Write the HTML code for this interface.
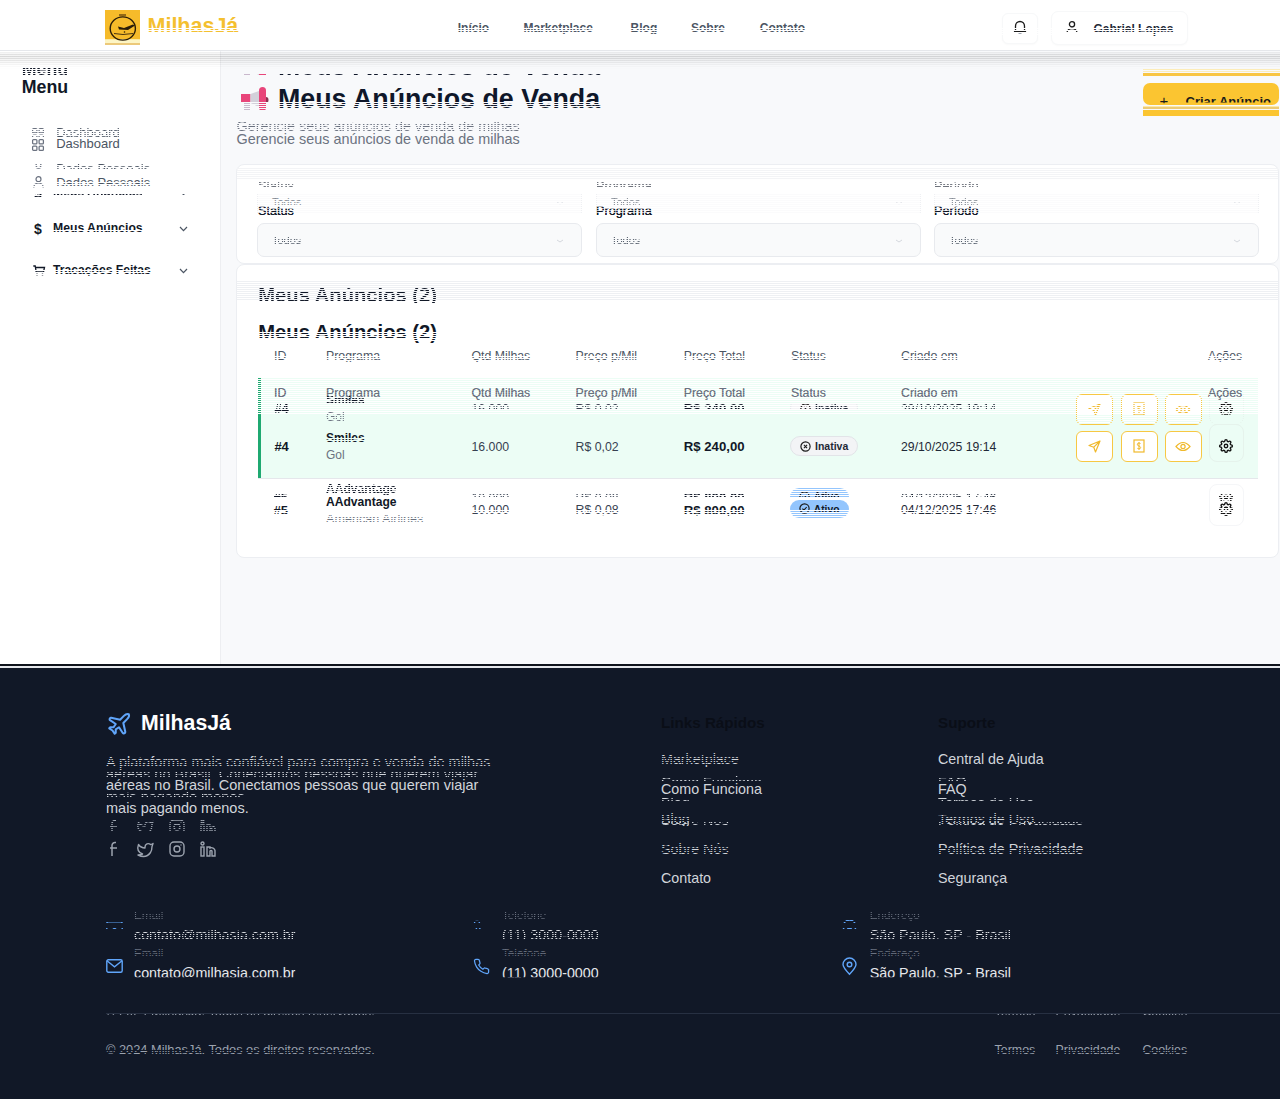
<!DOCTYPE html>
<html lang="pt-BR">
<head>
<meta charset="utf-8">
<title>MilhasJá - Meus Anúncios de Venda</title>
<style>
*{box-sizing:border-box;margin:0;padding:0}
html,body{width:1280px;height:1099px;overflow:hidden;background:#f8f9fb;font-family:"Liberation Sans",sans-serif;color:#111827}
.a{position:absolute;white-space:nowrap;line-height:1}
svg.a{overflow:visible}
.st{-webkit-mask-image:repeating-linear-gradient(to bottom,#000 0 1px,transparent 1px 2px);mask-image:repeating-linear-gradient(to bottom,#000 0 1px,transparent 1px 2px)}
.st2{-webkit-mask-image:repeating-linear-gradient(to bottom,transparent 0 1px,#000 1px 2px);mask-image:repeating-linear-gradient(to bottom,transparent 0 1px,#000 1px 2px)}
</style>
</head>
<body>
<div class="a " style="left:0px;top:0px;width:1280px;height:50px;background:#fff"></div>
<div class="a " style="left:0px;top:50px;width:1280px;height:1px;background:#e5e7eb"></div>
<div class="a " style="left:105px;top:10px;width:35px;height:29px;background:#f6bb2a"></div>
<div class="a " style="left:105px;top:39px;width:35px;height:1px;background:#fbe9a0"></div>
<div class="a " style="left:105px;top:40px;width:35px;height:3px;background:#fdf5c4"></div>
<div class="a " style="left:105px;top:43px;width:35px;height:2px;background:#ecc97a"></div>
<svg class="a" style="left:105px;top:5px;" width="35" height="40" viewBox="0 0 35 40"><ellipse cx="17.8" cy="23.5" rx="12.6" ry="11.6" fill="none" stroke="#2a1d08" stroke-width="1.4"/><path d="M14 10 h7" stroke="#6b4a10" stroke-width="1.4"/><path d="M13 21.5 L19 23 L28 19.5 L30 20.5 L23 25 L14 24.5 Z" fill="#2a1d08"/><path d="M9 28.5 Q17.5 30.5 28 28.5" fill="none" stroke="#4a3510" stroke-width="1"/><circle cx="19.5" cy="27" r=".8" fill="#2a1d08"/></svg>
<div class="a " style="left:147.50px;top:15.80px;font-size:21.5px;font-weight:bold;color:#f4c02f;">MilhasJá</div>
<div class="a " style="left:457.75px;top:22.34px;font-size:12px;font-weight:bold;color:#4b5563;">Início</div>
<div class="a " style="left:523.50px;top:22.34px;font-size:12px;font-weight:bold;color:#4b5563;">Marketplace</div>
<div class="a " style="left:630.60px;top:22.34px;font-size:12px;font-weight:bold;color:#4b5563;">Blog</div>
<div class="a " style="left:691.00px;top:22.34px;font-size:12px;font-weight:bold;color:#4b5563;">Sobre</div>
<div class="a " style="left:759.80px;top:22.34px;font-size:12px;font-weight:bold;color:#4b5563;">Contato</div>
<div class="a " style="left:1002px;top:13px;width:36px;height:31px;background:#fff;border:1px solid #f7f8f9;border-radius:6px;box-shadow:0 1px 2px rgba(0,0,0,.025)"></div>
<svg class="a" style="left:1013px;top:19px;" width="14" height="16" viewBox="0 0 14 16"><path d="M2.5 11.5 V7 A4.5 4.5 0 0 1 11.5 7 V11.5 L12.5 12.5 H1.5 Z" fill="none" stroke="#1a1a1a" stroke-width="1.3" stroke-linejoin="round"/><path d="M5.5 14.5 H8.5" stroke="#9ca3af" stroke-width="1.2"/></svg>
<div class="a " style="left:1051px;top:11px;width:137px;height:34px;background:#fff;border:1px solid #f7f8f9;border-radius:7px;box-shadow:0 1px 2px rgba(0,0,0,.025)"></div>
<svg class="a" style="left:1066px;top:20px;" width="12" height="14" viewBox="0 0 12 14"><circle cx="6" cy="4.2" r="2.6" fill="none" stroke="#1a1a1a" stroke-width="1.3"/><path d="M1 13 A5 4.5 0 0 1 11 13" fill="none" stroke="#1a1a1a" stroke-width="1.3"/></svg>
<div class="a " style="left:1093.40px;top:22.64px;font-size:12px;font-weight:bold;color:#1f2937;">Gabriel Lopes</div>
<div class="a " style="left:0px;top:51px;width:221px;height:614px;background:#fff;border-right:1px solid #edeef1"></div>
<div class="a " style="left:21.70px;top:79.13px;font-size:17.8px;font-weight:bold;color:#111827;">Menu</div>
<svg class="a" style="left:32px;top:139px;" width="12" height="12" viewBox="0 0 12 12"><g fill="none" stroke="#6b7280" stroke-width="1.25"><rect x=".6" y=".6" width="4.3" height="4.3" rx=".9"/><rect x="7.1" y=".6" width="4.3" height="4.3" rx=".9"/><rect x=".6" y="7.1" width="4.3" height="4.3" rx=".9"/><rect x="7.1" y="7.1" width="4.3" height="4.3" rx=".9"/></g></svg>
<div class="a " style="left:56.20px;top:137.40px;font-size:13px;font-weight:normal;color:#4b5563;">Dashboard</div>
<svg class="a" style="left:33px;top:176px;" width="11" height="12" viewBox="0 0 11 12"><g fill="none" stroke="#6b7280" stroke-width="1.2"><circle cx="5.5" cy="3.2" r="2.5"/><path d="M.8 11.5 A4.7 4.7 0 0 1 10.2 11.5"/></g></svg>
<div class="a " style="left:56.20px;top:175.60px;font-size:13px;font-weight:normal;color:#4b5563;">Dados Pessoais</div>
<div class="a " style="left:34.00px;top:221.65px;font-size:14px;font-weight:bold;color:#111827;">$</div>
<div class="a " style="left:53.00px;top:221.97px;font-size:12.2px;font-weight:bold;color:#111827;">Meus Anúncios</div>
<svg class="a" style="left:179px;top:226px;" width="9" height="6" viewBox="0 0 9 6"><path d="M1 1 L4.5 4.6 L8 1" fill="none" stroke="#4b5563" stroke-width="1.2"/></svg>
<svg class="a" style="left:33px;top:265px;" width="12" height="11" viewBox="0 0 12 11"><g fill="none" stroke="#111827" stroke-width="1.3"><path d="M.3 1 H2.2 L3.2 7 H10.5 L11.5 2.5 H2.6"/></g><circle cx="4" cy="9.6" r="1" fill="#111827"/><circle cx="9.5" cy="9.6" r="1" fill="#111827"/></svg>
<div class="a " style="left:53.00px;top:263.72px;font-size:12.15px;font-weight:bold;color:#111827;">Tracações Feitas</div>
<svg class="a" style="left:179px;top:268px;" width="9" height="6" viewBox="0 0 9 6"><path d="M1 1 L4.5 4.6 L8 1" fill="none" stroke="#4b5563" stroke-width="1.2"/></svg>
<div class="a " style="left:221px;top:51px;width:1059px;height:614px;background:#f8f9fb"></div>
<svg class="a" style="left:241px;top:87px;" width="27" height="25" viewBox="0 0 27 25"><rect x="0" y="7" width="9.5" height="9" fill="#e8457a"/><path d="M3 16 h6 v7 h-6 z" fill="#c9b8cc"/><path d="M9.5 7 L18 4 V20 L9.5 16 Z" fill="#d3d0da"/><rect x="18" y="0" width="7" height="24" rx="3.5" fill="#e8457a"/><path d="M25 10 a2.5 3 0 0 1 0 6" fill="#8a3050"/></svg>
<div class="a " style="left:278.00px;top:85.81px;font-size:26.8px;font-weight:bold;color:#0f172a;">Meus Anúncios de Venda</div>
<div class="a " style="left:236.60px;top:131.81px;font-size:14.4px;font-weight:normal;color:#6b7280;">Gerencie seus anúncios de venda de milhas</div>
<div class="a " style="left:1143px;top:83px;width:136px;height:22px;background:#fbc531;border-radius:7px"></div>
<div class="a " style="left:1143px;top:106px;width:136px;height:1px;background:#fde9a6"></div>
<div class="a " style="left:1143px;top:107px;width:136px;height:2px;background:#ecca74"></div>
<div class="a " style="left:1143px;top:110px;width:136px;height:6px;background:#fbc531"></div>
<div class="a " style="left:1143px;top:69px;width:137px;height:1px;background:#fcecb8"></div>
<div class="a " style="left:1143px;top:71px;width:137px;height:1px;background:#fcecb8"></div>
<div class="a " style="left:1143px;top:73px;width:137px;height:3px;background:#f8c543"></div>
<div class="a " style="left:1159.50px;top:93.30px;font-size:15px;font-weight:normal;color:#1a1a1a;clip-path:inset(0 0 5px 0)">+</div>
<div class="a " style="left:1185.50px;top:95.00px;font-size:13px;font-weight:bold;color:#1a1a1a;clip-path:inset(0 0 5.6px 0)">Criar Anúncio</div>
<div class="a " style="left:236px;top:164px;width:1043px;height:100px;background:#fff;border:1px solid #eceef2;border-radius:8px"></div>
<div class="a " style="left:258.00px;top:205.25px;font-size:12.7px;font-weight:normal;color:#111827;text-shadow:0 0 .3px #111827">Status</div>
<div class="a " style="left:596.00px;top:205.25px;font-size:12.7px;font-weight:normal;color:#111827;text-shadow:0 0 .3px #111827">Programa</div>
<div class="a " style="left:934.00px;top:205.25px;font-size:12.7px;font-weight:normal;color:#111827;text-shadow:0 0 .3px #111827">Período</div>
<div class="a " style="left:257px;top:223px;width:325px;height:34px;background:#f9fafb;border:1px solid #e8eaee;border-radius:7px"></div>
<div class="a st" style="left:272.00px;top:234.69px;font-size:11px;font-weight:normal;color:#4b5563;">Todos</div>
<svg class="a" style="left:556px;top:239px;" width="8" height="4" viewBox="0 0 8 4"><path d="M1 1 L4 3 L7 1" fill="none" stroke="#d5d8de" stroke-width="1"/></svg>
<div class="a " style="left:596px;top:223px;width:325px;height:34px;background:#f9fafb;border:1px solid #e8eaee;border-radius:7px"></div>
<div class="a st" style="left:611.00px;top:234.69px;font-size:11px;font-weight:normal;color:#4b5563;">Todos</div>
<svg class="a" style="left:895px;top:239px;" width="8" height="4" viewBox="0 0 8 4"><path d="M1 1 L4 3 L7 1" fill="none" stroke="#d5d8de" stroke-width="1"/></svg>
<div class="a " style="left:934px;top:223px;width:325px;height:34px;background:#f9fafb;border:1px solid #e8eaee;border-radius:7px"></div>
<div class="a st" style="left:949.00px;top:234.69px;font-size:11px;font-weight:normal;color:#4b5563;">Todos</div>
<svg class="a" style="left:1233px;top:239px;" width="8" height="4" viewBox="0 0 8 4"><path d="M1 1 L4 3 L7 1" fill="none" stroke="#d5d8de" stroke-width="1"/></svg>
<div class="a " style="left:236px;top:264px;width:1043px;height:294px;background:#fff;border:1px solid #eceef2;border-radius:8px"></div>
<div class="a " style="left:258.30px;top:321.50px;font-size:20.2px;font-weight:bold;color:#111827;">Meus Anúncios (2)</div>
<div class="a " style="left:274.00px;top:387.09px;font-size:12.3px;font-weight:normal;color:#6b7280;">ID</div>
<div class="a " style="left:326.00px;top:387.09px;font-size:12.3px;font-weight:normal;color:#6b7280;">Programa</div>
<div class="a " style="left:471.50px;top:387.09px;font-size:12.3px;font-weight:normal;color:#6b7280;">Qtd Milhas</div>
<div class="a " style="left:575.50px;top:387.09px;font-size:12.3px;font-weight:normal;color:#6b7280;">Preço p/Mil</div>
<div class="a " style="left:683.75px;top:387.09px;font-size:12.3px;font-weight:normal;color:#6b7280;">Preço Total</div>
<div class="a " style="left:791.00px;top:387.09px;font-size:12.3px;font-weight:normal;color:#6b7280;">Status</div>
<div class="a " style="left:901.00px;top:387.09px;font-size:12.3px;font-weight:normal;color:#6b7280;">Criado em</div>
<div class="a " style="left:1208.00px;top:387.09px;font-size:12.3px;font-weight:normal;color:#6b7280;">Ações</div>
<div class="a " style="left:258px;top:414px;width:1000px;height:64px;background:#ecfdf5"></div>
<div class="a " style="left:258px;top:478px;width:1000px;height:1px;background:#e5e7eb"></div>
<div class="a " style="left:258px;top:414px;width:3px;height:64px;background:#1fa971"></div>
<div class="a " style="left:274.40px;top:440.20px;font-size:13px;font-weight:bold;color:#111827;">#4</div>
<div class="a " style="left:326.00px;top:431.54px;font-size:12px;font-weight:bold;color:#111827;">Smiles</div>
<div class="a " style="left:326.00px;top:449.24px;font-size:12px;font-weight:normal;color:#6b7280;">Gol</div>
<div class="a " style="left:471.50px;top:440.79px;font-size:12.3px;font-weight:normal;color:#374151;">16.000</div>
<div class="a " style="left:575.50px;top:440.79px;font-size:12.3px;font-weight:normal;color:#374151;">R$ 0,02</div>
<div class="a " style="left:683.75px;top:440.03px;font-size:13.2px;font-weight:bold;color:#111827;">R$ 240,00</div>
<div class="a " style="left:790px;top:436px;width:68px;height:20px;background:#f3f4f6;border:1px solid #e2e4e8;border-radius:10px"></div>
<svg class="a" style="left:800px;top:441px;" width="11" height="11" viewBox="0 0 11 11"><circle cx="5.5" cy="5.5" r="4.6" fill="none" stroke="#1a1a1a" stroke-width="1.2"/><path d="M3.9 3.9 L7.1 7.1 M7.1 3.9 L3.9 7.1" stroke="#1a1a1a" stroke-width="1.1"/></svg>
<div class="a " style="left:815.00px;top:441.11px;font-size:10.5px;font-weight:bold;color:#1f2937;">Inativa</div>
<div class="a " style="left:901.00px;top:440.83px;font-size:12.25px;font-weight:normal;color:#1f2937;">29/10/2025 19:14</div>
<div class="a " style="left:1076px;top:431px;width:37px;height:31px;border:1.8px solid #f7c843;border-radius:6px;background:#fff"></div>
<div class="a " style="left:1121px;top:431px;width:37px;height:31px;border:1.8px solid #f7c843;border-radius:6px;background:#fff"></div>
<div class="a " style="left:1165px;top:431px;width:37px;height:31px;border:1.8px solid #f7c843;border-radius:6px;background:#fff"></div>
<svg class="a" style="left:1088px;top:440px;" width="13" height="13" viewBox="0 0 13 13"><path d="M12 1 L1 5.5 L5.8 7.2 L7.5 12 Z M12 1 L5.8 7.2" fill="none" stroke="#f0b92c" stroke-width="1.2" stroke-linejoin="round"/></svg>
<svg class="a" style="left:1133px;top:439px;" width="12" height="14" viewBox="0 0 12 14"><rect x="1" y="1" width="10" height="12" fill="none" stroke="#f0b92c" stroke-width="1.2"/><path d="M7.5 4.5 Q6 3.6 4.8 4.3 Q3.8 5 4.8 6.5 L7 7.5 Q8.2 8.5 7.2 9.5 Q6 10.2 4.4 9.4 M6 3 V11" fill="none" stroke="#f0b92c" stroke-width="1"/></svg>
<svg class="a" style="left:1175px;top:441px;" width="16" height="11" viewBox="0 0 16 11"><path d="M1 5.5 Q8 -2.5 15 5.5 Q8 13.5 1 5.5 Z" fill="none" stroke="#f0b92c" stroke-width="1.2"/><circle cx="8" cy="5.5" r="2.1" fill="none" stroke="#f0b92c" stroke-width="1.2"/></svg>
<div class="a " style="left:1209px;top:424px;width:35px;height:38px;border:1px solid #e6f3ec;border-radius:8px"></div>
<svg class="a" style="left:1219px;top:439px;" width="14" height="14" viewBox="0 0 24 24"><path d="M12 15a3 3 0 1 0 0-6 3 3 0 0 0 0 6z M19.4 15a1.65 1.65 0 0 0 .33 1.82l.06.06a2 2 0 1 1-2.83 2.83l-.06-.06a1.65 1.65 0 0 0-1.82-.33 1.65 1.65 0 0 0-1 1.51V21a2 2 0 1 1-4 0v-.09A1.65 1.65 0 0 0 9 19.4a1.65 1.65 0 0 0-1.820.33l-.06.06a2 2 0 1 1-2.83-2.83l.06-.06A1.65 1.65 0 0 0 4.68 15a1.65 1.65 0 0 0-1.51-1H3a2 2 0 1 1 0-4h.09A1.65 1.65 0 0 0 4.6 9a1.65 1.65 0 0 0-.33-1.82l-.06-.06a2 2 0 1 1 2.83-2.83l.06.06A1.65 1.65 0 0 0 9 4.68a1.65 1.65 0 0 0 1-1.51V3a2 2 0 1 1 4 0v.09a1.65 1.65 0 0 0 1 1.51 1.65 1.65 0 0 0 1.82-.33l.06-.06a2 2 0 1 1 2.83 2.83l-.06.06A1.65 1.65 0 0 0 19.4 9a1.65 1.65 0 0 0 1.51 1H21a2 2 0 1 1 0 4h-.09a1.65 1.65 0 0 0-1.51 1z" fill="none" stroke="#111" stroke-width="2.3"/></svg>
<div class="a " style="left:273.60px;top:503.80px;font-size:13px;font-weight:bold;color:#111827;">#5</div>
<div class="a " style="left:326.00px;top:495.76px;font-size:12.1px;font-weight:bold;color:#111827;">AAdvantage</div>
<div class="a " style="left:326.00px;top:512.93px;font-size:12.6px;font-weight:normal;color:#6b7280;">American Airlines</div>
<div class="a " style="left:471.50px;top:504.39px;font-size:12.3px;font-weight:normal;color:#374151;">10.000</div>
<div class="a " style="left:575.50px;top:504.39px;font-size:12.3px;font-weight:normal;color:#374151;">R$ 0,08</div>
<div class="a " style="left:683.75px;top:503.63px;font-size:13.2px;font-weight:bold;color:#111827;">R$ 800,00</div>
<div class="a " style="left:790px;top:500px;width:59px;height:18px;background:#93c5fd;border-radius:9px"></div>
<svg class="a" style="left:799px;top:503px;" width="11" height="11" viewBox="0 0 11 11"><circle cx="5.5" cy="5.5" r="4.6" fill="none" stroke="#1a1a1a" stroke-width="1.2"/><path d="M3.4 5.6 L4.9 7.1 L7.7 4" fill="none" stroke="#1a1a1a" stroke-width="1.1"/></svg>
<div class="a " style="left:813.75px;top:504.78px;font-size:10.3px;font-weight:bold;color:#111827;">Ativo</div>
<div class="a " style="left:901.00px;top:504.43px;font-size:12.25px;font-weight:normal;color:#1f2937;">04/12/2025 17:46</div>
<div class="a " style="left:1209px;top:484px;width:35px;height:42px;border:1px solid #f5f6f8;border-radius:8px"></div>
<svg class="a" style="left:1219px;top:502px;" width="14" height="14" viewBox="0 0 24 24"><path d="M12 15a3 3 0 1 0 0-6 3 3 0 0 0 0 6z M19.4 15a1.65 1.65 0 0 0 .33 1.82l.06.06a2 2 0 1 1-2.83 2.83l-.06-.06a1.65 1.65 0 0 0-1.82-.33 1.65 1.65 0 0 0-1 1.51V21a2 2 0 1 1-4 0v-.09A1.65 1.65 0 0 0 9 19.4a1.65 1.65 0 0 0-1.820.33l-.06.06a2 2 0 1 1-2.83-2.83l.06-.06A1.65 1.65 0 0 0 4.68 15a1.65 1.65 0 0 0-1.51-1H3a2 2 0 1 1 0-4h.09A1.65 1.65 0 0 0 4.6 9a1.65 1.65 0 0 0-.33-1.82l-.06-.06a2 2 0 1 1 2.83-2.83l.06.06A1.65 1.65 0 0 0 9 4.68a1.65 1.65 0 0 0 1-1.51V3a2 2 0 1 1 4 0v.09a1.65 1.65 0 0 0 1 1.51 1.65 1.65 0 0 0 1.82-.33l.06-.06a2 2 0 1 1 2.83 2.83l-.06.06A1.65 1.65 0 0 0 19.4 9a1.65 1.65 0 0 0 1.51 1H21a2 2 0 1 1 0 4h-.09a1.65 1.65 0 0 0-1.51 1z" fill="none" stroke="#111" stroke-width="2.3"/></svg>
<div class="a " style="left:0px;top:668px;width:1280px;height:431px;background:#111827"></div>
<div class="a " style="left:0px;top:664px;width:1280px;height:2px;background:#0f131c"></div>
<div class="a " style="left:0px;top:666px;width:1280px;height:2px;background:#e6e8ec"></div>
<svg class="a" style="left:106px;top:711px;" width="26" height="26" viewBox="0 0 24 24"><path d="M17.8 19.2 16 11l3.5-3.5C21 6 21.5 4 21 3c-1-.5-3 0-4.5 1.5L13 8 4.8 6.2c-.5-.1-.9.1-1.1.5l-.3.5c-.2.5-.1 1 .3 1.3L9 12l-2 3H4l-1 1 3 2 2 3 1-1v-3l3-2 3.5 5.3c.3.4.8.5 1.3.3l.5-.2c.4-.3.6-.7.5-1.2z" fill="none" stroke="#60a5fa" stroke-width="1.9" stroke-linejoin="round"/></svg>
<div class="a " style="left:141.00px;top:712.97px;font-size:21.3px;font-weight:bold;color:#ffffff;">MilhasJá</div>
<div class="a " style="left:106.00px;top:755.23px;font-size:14.5px;font-weight:normal;color:#d1d5db;">A plataforma mais confiável para compra e venda de milhas</div>
<div class="a " style="left:106.00px;top:778.03px;font-size:14.5px;font-weight:normal;color:#d1d5db;">aéreas no Brasil. Conectamos pessoas que querem viajar</div>
<div class="a " style="left:106.00px;top:800.73px;font-size:14.5px;font-weight:normal;color:#d1d5db;">mais pagando menos.</div>
<svg class="a" style="left:109px;top:841px;" width="10" height="16" viewBox="0 0 10 16"><path d="M7 1.5 H6 A3 3 0 0 0 3 4.5 V15 M1 7 H8" fill="none" stroke="#9ca3af" stroke-width="1.5"/></svg>
<svg class="a" style="left:137px;top:842px;" width="17" height="14" viewBox="0 0 17 14"><path d="M16 1.5 Q14.5 2.5 13.5 2.5 A3.3 3.3 0 0 0 8 5 V6 A8 8 0 0 1 1.5 2.5 Q-1 9.5 5.5 12 Q3.5 13 1 13 Q9 17 13.5 10.5 Q15 8 15 4.5 Q15.5 3 16 1.5 Z" fill="none" stroke="#9ca3af" stroke-width="1.4" stroke-linejoin="round"/></svg>
<svg class="a" style="left:169px;top:841px;" width="16" height="16" viewBox="0 0 16 16"><rect x="1" y="1" width="14" height="14" rx="4" fill="none" stroke="#9ca3af" stroke-width="1.4"/><circle cx="8" cy="8" r="3" fill="none" stroke="#9ca3af" stroke-width="1.4"/><circle cx="12" cy="4" r=".7" fill="#9ca3af"/></svg>
<svg class="a" style="left:200px;top:841px;" width="16" height="16" viewBox="0 0 16 16"><g fill="none" stroke="#9ca3af" stroke-width="1.4"><rect x="1" y="6" width="3" height="9"/><circle cx="2.5" cy="2.5" r="1.5"/><path d="M7 15 V6 H10 V7 A3.5 3.5 0 0 1 15 9.5 V15 H12 V10 A1.5 1.5 0 0 0 10 10 V15 Z"/></g></svg>
<div class="a " style="left:661.00px;top:714.63px;font-size:15.2px;font-weight:bold;color:#0a0e17;">Links Rápidos</div>
<div class="a " style="left:938.00px;top:714.63px;font-size:15.2px;font-weight:bold;color:#0a0e17;">Suporte</div>
<div class="a " style="left:661.00px;top:751.90px;font-size:14.3px;font-weight:normal;color:#d1d5db;">Marketplace</div>
<div class="a " style="left:661.00px;top:782.20px;font-size:14.3px;font-weight:normal;color:#d1d5db;">Como Funciona</div>
<div class="a " style="left:661.00px;top:811.90px;font-size:14.3px;font-weight:normal;color:#d1d5db;">Blog</div>
<div class="a " style="left:661.00px;top:841.70px;font-size:14.3px;font-weight:normal;color:#d1d5db;">Sobre Nós</div>
<div class="a " style="left:661.00px;top:870.50px;font-size:14.3px;font-weight:normal;color:#d1d5db;">Contato</div>
<div class="a " style="left:938.00px;top:751.90px;font-size:14.3px;font-weight:normal;color:#d1d5db;">Central de Ajuda</div>
<div class="a " style="left:938.00px;top:782.20px;font-size:14.3px;font-weight:normal;color:#d1d5db;">FAQ</div>
<div class="a " style="left:938.00px;top:811.90px;font-size:14.3px;font-weight:normal;color:#d1d5db;">Termos de Uso</div>
<div class="a " style="left:938.00px;top:841.70px;font-size:14.3px;font-weight:normal;color:#d1d5db;">Política de Privacidade</div>
<div class="a " style="left:938.00px;top:870.50px;font-size:14.3px;font-weight:normal;color:#d1d5db;">Segurança</div>
<svg class="a" style="left:106px;top:959px;" width="17" height="14" viewBox="0 0 17 14"><rect x=".8" y=".8" width="15.4" height="12.4" rx="1.5" fill="none" stroke="#60a5fa" stroke-width="1.4"/><path d="M1 1.8 L8.5 7.8 L16 1.8" fill="none" stroke="#60a5fa" stroke-width="1.4"/></svg>
<svg class="a" style="left:473px;top:958px;" width="17" height="17" viewBox="0 0 24 24"><path d="M22 16.9v3a2 2 0 0 1-2.2 2 19.8 19.8 0 0 1-8.6-3.1 19.5 19.5 0 0 1-6-6A19.8 19.8 0 0 1 2.1 4.2 2 2 0 0 1 4.1 2h3a2 2 0 0 1 2 1.7c.1 1 .4 1.9.7 2.8a2 2 0 0 1-.5 2.1L8 9.9a16 16 0 0 0 6 6l1.3-1.3a2 2 0 0 1 2.1-.4c.9.3 1.8.6 2.8.7a2 2 0 0 1 1.7 2z" fill="none" stroke="#60a5fa" stroke-width="1.8"/></svg>
<svg class="a" style="left:842px;top:958px;" width="15" height="17" viewBox="0 0 15 17"><path d="M7.5 16.2 C3 11.5 1 8.6 1 6.5 A6.5 6.5 0 0 1 14 6.5 C14 8.6 12 11.5 7.5 16.2 Z" fill="none" stroke="#60a5fa" stroke-width="1.4"/><circle cx="7.5" cy="6.5" r="2.3" fill="none" stroke="#60a5fa" stroke-width="1.4"/></svg>
<div class="a " style="left:134.00px;top:947.10px;font-size:11.7px;font-weight:normal;color:#6b7280;">Email</div>
<div class="a " style="left:134.00px;top:965.90px;font-size:14.3px;font-weight:normal;color:#e5e7eb;clip-path:inset(0 0 3px 0)">contato@milhasja.com.br</div>
<div class="a " style="left:502.00px;top:947.10px;font-size:11.7px;font-weight:normal;color:#6b7280;">Telefone</div>
<div class="a " style="left:502.00px;top:965.90px;font-size:14.3px;font-weight:normal;color:#e5e7eb;clip-path:inset(0 0 3px 0)">(11) 3000-0000</div>
<div class="a " style="left:869.70px;top:947.10px;font-size:11.7px;font-weight:normal;color:#6b7280;">Endereço</div>
<div class="a " style="left:869.70px;top:965.90px;font-size:14.3px;font-weight:normal;color:#e5e7eb;clip-path:inset(0 0 3px 0)">São Paulo, SP - Brasil</div>
<div class="a " style="left:106px;top:1013px;width:1174px;height:1px;background:#273042"></div>
<div class="a " style="left:106.00px;top:1043.66px;font-size:12.8px;font-weight:normal;color:#9ca3af;">© 2024 MilhasJá. Todos os direitos reservados.</div>
<div class="a " style="left:994.60px;top:1044.00px;font-size:12.4px;font-weight:normal;color:#9ca3af;">Termos</div>
<div class="a " style="left:1055.60px;top:1044.00px;font-size:12.4px;font-weight:normal;color:#9ca3af;">Privacidade</div>
<div class="a " style="left:1142.40px;top:1044.00px;font-size:12.4px;font-weight:normal;color:#9ca3af;">Cookies</div>
<div class="a st" style="left:140px;top:28px;width:105px;height:8px;background:#fff"></div>
<div class="a st" style="left:255px;top:332px;width:195px;height:10px;background:#fff"></div>
<div class="a st" style="left:50px;top:230px;width:110px;height:5px;background:#fff"></div>
<div class="a st2" style="left:262px;top:509px;width:738px;height:16px;background:#fff"></div>
<div class="a st" style="left:320px;top:438px;width:60px;height:5px;background:#ecfdf5"></div>
<div class="a st" style="left:440px;top:28px;width:740px;height:8px;background:#fff"></div>
<div class="a st2" style="left:25px;top:181px;width:135px;height:7px;background:#fff"></div>
<div class="a st" style="left:25px;top:270px;width:135px;height:8px;background:#fff"></div>
<div class="a st" style="left:236px;top:102px;width:384px;height:10px;background:#f8f9fb"></div>
<div class="a st2" style="left:650px;top:813px;width:450px;height:14px;background:#111827"></div>
<div class="a st2" style="left:100px;top:757px;width:400px;height:12px;background:#111827"></div>
<div class="a st2" style="left:100px;top:1049px;width:1100px;height:9px;background:#111827"></div>
<div class="a st" style="left:650px;top:754px;width:150px;height:12px;background:#111827"></div>
<div class="a st" style="left:650px;top:844px;width:110px;height:12px;background:#111827"></div>
<div class="a st" style="left:650px;top:848px;width:450px;height:8px;background:#111827"></div>
<div class="a st" style="left:0px;top:52px;width:1280px;height:17px;background:linear-gradient(rgba(0,0,0,.05),rgba(0,0,0,.11) 28%,rgba(0,0,0,.06) 55%,rgba(0,0,0,0))"></div>
<div class="a " style="left:0px;top:53px;width:1280px;height:13px;background:linear-gradient(rgba(0,0,0,.03),rgba(0,0,0,.05) 35%,rgba(0,0,0,0))"></div>
<div class="a st" style="left:0px;top:68px;width:1280px;height:9px;overflow:hidden;">
<div class="a" style="left:0px;top:-86px;width:1280px;height:1099px">
<div class="a " style="left:21.70px;top:79.13px;font-size:17.8px;font-weight:bold;color:#111827;">Menu</div>
</div></div>
<div class="a st2" style="left:0px;top:125px;width:1280px;height:12px;overflow:hidden;">
<div class="a" style="left:0px;top:-136.5px;width:1280px;height:1099px">
<svg class="a" style="left:32px;top:139px;" width="12" height="12" viewBox="0 0 12 12"><g fill="none" stroke="#6b7280" stroke-width="1.25"><rect x=".6" y=".6" width="4.3" height="4.3" rx=".9"/><rect x="7.1" y=".6" width="4.3" height="4.3" rx=".9"/><rect x=".6" y="7.1" width="4.3" height="4.3" rx=".9"/><rect x="7.1" y="7.1" width="4.3" height="4.3" rx=".9"/></g></svg>
<div class="a " style="left:56.20px;top:137.40px;font-size:13px;font-weight:normal;color:#4b5563;">Dashboard</div>
</div></div>
<div class="a st2" style="left:0px;top:163px;width:1280px;height:6px;overflow:hidden;">
<div class="a" style="left:0px;top:-176.7px;width:1280px;height:1099px">
<svg class="a" style="left:33px;top:176px;" width="11" height="12" viewBox="0 0 11 12"><g fill="none" stroke="#6b7280" stroke-width="1.2"><circle cx="5.5" cy="3.2" r="2.5"/><path d="M.8 11.5 A4.7 4.7 0 0 1 10.2 11.5"/></g></svg>
<div class="a " style="left:56.20px;top:175.60px;font-size:13px;font-weight:normal;color:#4b5563;">Dados Pessoais</div>
</div></div>
<div class="a st2" style="left:0px;top:193px;width:1280px;height:5px;overflow:hidden;">
<div class="a" style="left:0px;top:-229px;width:1280px;height:1099px">
<div class="a " style="left:34.00px;top:221.65px;font-size:14px;font-weight:bold;color:#111827;">$</div>
<div class="a " style="left:53.00px;top:221.97px;font-size:12.2px;font-weight:bold;color:#111827;">Meus Anúncios</div>
<svg class="a" style="left:179px;top:226px;" width="9" height="6" viewBox="0 0 9 6"><path d="M1 1 L4.5 4.6 L8 1" fill="none" stroke="#4b5563" stroke-width="1.2"/></svg>
</div></div>
<div class="a st" style="left:221px;top:74px;width:1059px;height:2px;overflow:hidden;">
<div class="a" style="left:-221px;top:-106.5px;width:1280px;height:1099px">
<svg class="a" style="left:241px;top:87px;" width="27" height="25" viewBox="0 0 27 25"><rect x="0" y="7" width="9.5" height="9" fill="#e8457a"/><path d="M3 16 h6 v7 h-6 z" fill="#c9b8cc"/><path d="M9.5 7 L18 4 V20 L9.5 16 Z" fill="#d3d0da"/><rect x="18" y="0" width="7" height="24" rx="3.5" fill="#e8457a"/><path d="M25 10 a2.5 3 0 0 1 0 6" fill="#8a3050"/></svg>
<div class="a " style="left:278.00px;top:85.81px;font-size:26.8px;font-weight:bold;color:#0f172a;">Meus Anúncios de Venda</div>
</div></div>
<div class="a st2" style="left:221px;top:121px;width:1059px;height:12px;overflow:hidden;">
<div class="a" style="left:-221px;top:-133.4px;width:1280px;height:1099px">
<div class="a " style="left:236.60px;top:131.81px;font-size:14.4px;font-weight:normal;color:#6b7280;">Gerencie seus anúncios de venda de milhas</div>
</div></div>
<div class="a st" style="left:237px;top:168px;width:1041px;height:11px;background:#f3f4f6"></div>
<div class="a st2" style="left:221px;top:181px;width:1059px;height:7px;overflow:hidden;opacity:.6">
<div class="a" style="left:-221px;top:-206px;width:1280px;height:1099px">
<div class="a " style="left:258.00px;top:205.25px;font-size:12.7px;font-weight:normal;color:#111827;text-shadow:0 0 .3px #111827">Status</div>
<div class="a " style="left:596.00px;top:205.25px;font-size:12.7px;font-weight:normal;color:#111827;text-shadow:0 0 .3px #111827">Programa</div>
<div class="a " style="left:934.00px;top:205.25px;font-size:12.7px;font-weight:normal;color:#111827;text-shadow:0 0 .3px #111827">Período</div>
</div></div>
<div class="a st2" style="left:221px;top:193px;width:1059px;height:21px;overflow:hidden;opacity:.7">
<div class="a" style="left:-221px;top:-231px;width:1280px;height:1099px">
<div class="a " style="left:257px;top:223px;width:325px;height:34px;background:#f9fafb;border:1px solid #e8eaee;border-radius:7px"></div>
<div class="a " style="left:272.00px;top:234.69px;font-size:11px;font-weight:normal;color:#4b5563;">Todos</div>
<svg class="a" style="left:556px;top:239px;" width="8" height="4" viewBox="0 0 8 4"><path d="M1 1 L4 3 L7 1" fill="none" stroke="#d5d8de" stroke-width="1"/></svg>
<div class="a " style="left:596px;top:223px;width:325px;height:34px;background:#f9fafb;border:1px solid #e8eaee;border-radius:7px"></div>
<div class="a " style="left:611.00px;top:234.69px;font-size:11px;font-weight:normal;color:#4b5563;">Todos</div>
<svg class="a" style="left:895px;top:239px;" width="8" height="4" viewBox="0 0 8 4"><path d="M1 1 L4 3 L7 1" fill="none" stroke="#d5d8de" stroke-width="1"/></svg>
<div class="a " style="left:934px;top:223px;width:325px;height:34px;background:#f9fafb;border:1px solid #e8eaee;border-radius:7px"></div>
<div class="a " style="left:949.00px;top:234.69px;font-size:11px;font-weight:normal;color:#4b5563;">Todos</div>
<svg class="a" style="left:1233px;top:239px;" width="8" height="4" viewBox="0 0 8 4"><path d="M1 1 L4 3 L7 1" fill="none" stroke="#d5d8de" stroke-width="1"/></svg>
</div></div>
<div class="a st" style="left:237px;top:281px;width:1041px;height:19px;background:#eef0f3"></div>
<div class="a st2" style="left:221px;top:285px;width:1059px;height:18px;overflow:hidden;">
<div class="a" style="left:-221px;top:-321.6px;width:1280px;height:1099px">
<div class="a " style="left:258.30px;top:321.50px;font-size:20.2px;font-weight:bold;color:#111827;">Meus Anúncios (2)</div>
</div></div>
<div class="a " style="left:221px;top:349px;width:1059px;height:13px;overflow:hidden;">
<div class="a" style="left:-221px;top:-386.5px;width:1280px;height:1099px">
<div class="a " style="left:274.00px;top:387.09px;font-size:12.3px;font-weight:normal;color:#4b5563;">ID</div>
<div class="a " style="left:326.00px;top:387.09px;font-size:12.3px;font-weight:normal;color:#4b5563;">Programa</div>
<div class="a " style="left:471.50px;top:387.09px;font-size:12.3px;font-weight:normal;color:#4b5563;">Qtd Milhas</div>
<div class="a " style="left:575.50px;top:387.09px;font-size:12.3px;font-weight:normal;color:#4b5563;">Preço p/Mil</div>
<div class="a " style="left:683.75px;top:387.09px;font-size:12.3px;font-weight:normal;color:#4b5563;">Preço Total</div>
<div class="a " style="left:791.00px;top:387.09px;font-size:12.3px;font-weight:normal;color:#4b5563;">Status</div>
<div class="a " style="left:901.00px;top:387.09px;font-size:12.3px;font-weight:normal;color:#4b5563;">Criado em</div>
<div class="a " style="left:1208.00px;top:387.09px;font-size:12.3px;font-weight:normal;color:#4b5563;">Ações</div>
</div></div>
<div class="a st" style="left:262px;top:356px;width:998px;height:6px;background:#fff"></div>
<div class="a st2" style="left:221px;top:377px;width:1059px;height:37px;overflow:hidden;">
<div class="a" style="left:-221px;top:-414px;width:1280px;height:1099px">
<div class="a " style="left:258px;top:414px;width:1000px;height:64px;background:#ecfdf5"></div>
<div class="a " style="left:258px;top:478px;width:1000px;height:1px;background:#e5e7eb"></div>
<div class="a " style="left:258px;top:414px;width:3px;height:64px;background:#1fa971"></div>
</div></div>
<div class="a " style="left:221px;top:380px;width:1059px;height:22px;overflow:hidden;">
<div class="a" style="left:-221px;top:-380px;width:1280px;height:1099px">
<div class="a " style="left:274.00px;top:387.09px;font-size:12.3px;font-weight:normal;color:#6b7280;">ID</div>
<div class="a " style="left:326.00px;top:387.09px;font-size:12.3px;font-weight:normal;color:#6b7280;">Programa</div>
<div class="a " style="left:471.50px;top:387.09px;font-size:12.3px;font-weight:normal;color:#6b7280;">Qtd Milhas</div>
<div class="a " style="left:575.50px;top:387.09px;font-size:12.3px;font-weight:normal;color:#6b7280;">Preço p/Mil</div>
<div class="a " style="left:683.75px;top:387.09px;font-size:12.3px;font-weight:normal;color:#6b7280;">Preço Total</div>
<div class="a " style="left:791.00px;top:387.09px;font-size:12.3px;font-weight:normal;color:#6b7280;">Status</div>
<div class="a " style="left:901.00px;top:387.09px;font-size:12.3px;font-weight:normal;color:#6b7280;">Criado em</div>
<div class="a " style="left:1208.00px;top:387.09px;font-size:12.3px;font-weight:normal;color:#6b7280;">Ações</div>
</div></div>
<div class="a st" style="left:221px;top:396px;width:244px;height:25px;overflow:hidden;">
<div class="a" style="left:-221px;top:-434px;width:1280px;height:1099px">
<div class="a " style="left:274.40px;top:440.20px;font-size:13px;font-weight:bold;color:#111827;">#4</div>
<div class="a " style="left:326.00px;top:431.54px;font-size:12px;font-weight:bold;color:#111827;">Smiles</div>
<div class="a " style="left:326.00px;top:449.24px;font-size:12px;font-weight:normal;color:#6b7280;">Gol</div>
<div class="a " style="left:471.50px;top:440.79px;font-size:12.3px;font-weight:normal;color:#374151;">16.000</div>
<div class="a " style="left:575.50px;top:440.79px;font-size:12.3px;font-weight:normal;color:#374151;">R$ 0,02</div>
<div class="a " style="left:683.75px;top:440.03px;font-size:13.2px;font-weight:bold;color:#111827;">R$ 240,00</div>
<div class="a " style="left:790px;top:436px;width:68px;height:20px;background:#f3f4f6;border:1px solid #e2e4e8;border-radius:10px"></div>
<svg class="a" style="left:800px;top:441px;" width="11" height="11" viewBox="0 0 11 11"><circle cx="5.5" cy="5.5" r="4.6" fill="none" stroke="#1a1a1a" stroke-width="1.2"/><path d="M3.9 3.9 L7.1 7.1 M7.1 3.9 L3.9 7.1" stroke="#1a1a1a" stroke-width="1.1"/></svg>
<div class="a " style="left:815.00px;top:441.11px;font-size:10.5px;font-weight:bold;color:#1f2937;">Inativa</div>
<div class="a " style="left:901.00px;top:440.83px;font-size:12.25px;font-weight:normal;color:#1f2937;">29/10/2025 19:14</div>
</div></div>
<div class="a st" style="left:465px;top:404px;width:595px;height:6px;overflow:hidden;">
<div class="a" style="left:-465px;top:-442px;width:1280px;height:1099px">
<div class="a " style="left:274.40px;top:440.20px;font-size:13px;font-weight:bold;color:#111827;">#4</div>
<div class="a " style="left:326.00px;top:431.54px;font-size:12px;font-weight:bold;color:#111827;">Smiles</div>
<div class="a " style="left:326.00px;top:449.24px;font-size:12px;font-weight:normal;color:#6b7280;">Gol</div>
<div class="a " style="left:471.50px;top:440.79px;font-size:12.3px;font-weight:normal;color:#374151;">16.000</div>
<div class="a " style="left:575.50px;top:440.79px;font-size:12.3px;font-weight:normal;color:#374151;">R$ 0,02</div>
<div class="a " style="left:683.75px;top:440.03px;font-size:13.2px;font-weight:bold;color:#111827;">R$ 240,00</div>
<div class="a " style="left:790px;top:436px;width:68px;height:20px;background:#f3f4f6;border:1px solid #e2e4e8;border-radius:10px"></div>
<svg class="a" style="left:800px;top:441px;" width="11" height="11" viewBox="0 0 11 11"><circle cx="5.5" cy="5.5" r="4.6" fill="none" stroke="#1a1a1a" stroke-width="1.2"/><path d="M3.9 3.9 L7.1 7.1 M7.1 3.9 L3.9 7.1" stroke="#1a1a1a" stroke-width="1.1"/></svg>
<div class="a " style="left:815.00px;top:441.11px;font-size:10.5px;font-weight:bold;color:#1f2937;">Inativa</div>
<div class="a " style="left:901.00px;top:440.83px;font-size:12.25px;font-weight:normal;color:#1f2937;">29/10/2025 19:14</div>
</div></div>
<div class="a st2" style="left:221px;top:393px;width:1059px;height:33px;overflow:hidden;">
<div class="a" style="left:-221px;top:-430px;width:1280px;height:1099px">
<div class="a " style="left:1076px;top:431px;width:37px;height:31px;border:1.8px solid #f7c843;border-radius:6px;background:#fff"></div>
<div class="a " style="left:1121px;top:431px;width:37px;height:31px;border:1.8px solid #f7c843;border-radius:6px;background:#fff"></div>
<div class="a " style="left:1165px;top:431px;width:37px;height:31px;border:1.8px solid #f7c843;border-radius:6px;background:#fff"></div>
<svg class="a" style="left:1088px;top:440px;" width="13" height="13" viewBox="0 0 13 13"><path d="M12 1 L1 5.5 L5.8 7.2 L7.5 12 Z M12 1 L5.8 7.2" fill="none" stroke="#f0b92c" stroke-width="1.2" stroke-linejoin="round"/></svg>
<svg class="a" style="left:1133px;top:439px;" width="12" height="14" viewBox="0 0 12 14"><rect x="1" y="1" width="10" height="12" fill="none" stroke="#f0b92c" stroke-width="1.2"/><path d="M7.5 4.5 Q6 3.6 4.8 4.3 Q3.8 5 4.8 6.5 L7 7.5 Q8.2 8.5 7.2 9.5 Q6 10.2 4.4 9.4 M6 3 V11" fill="none" stroke="#f0b92c" stroke-width="1"/></svg>
<svg class="a" style="left:1175px;top:441px;" width="16" height="11" viewBox="0 0 16 11"><path d="M1 5.5 Q8 -2.5 15 5.5 Q8 13.5 1 5.5 Z" fill="none" stroke="#f0b92c" stroke-width="1.2"/><circle cx="8" cy="5.5" r="2.1" fill="none" stroke="#f0b92c" stroke-width="1.2"/></svg>
<div class="a " style="left:1209px;top:424px;width:35px;height:38px;border:1px solid #e6f3ec;border-radius:8px"></div>
<svg class="a" style="left:1219px;top:439px;" width="14" height="14" viewBox="0 0 24 24"><path d="M12 15a3 3 0 1 0 0-6 3 3 0 0 0 0 6z M19.4 15a1.65 1.65 0 0 0 .33 1.82l.06.06a2 2 0 1 1-2.83 2.83l-.06-.06a1.65 1.65 0 0 0-1.82-.33 1.65 1.65 0 0 0-1 1.51V21a2 2 0 1 1-4 0v-.09A1.65 1.65 0 0 0 9 19.4a1.65 1.65 0 0 0-1.820.33l-.06.06a2 2 0 1 1-2.83-2.83l.06-.06A1.65 1.65 0 0 0 4.68 15a1.65 1.65 0 0 0-1.51-1H3a2 2 0 1 1 0-4h.09A1.65 1.65 0 0 0 4.6 9a1.65 1.65 0 0 0-.33-1.82l-.06-.06a2 2 0 1 1 2.83-2.83l.06.06A1.65 1.65 0 0 0 9 4.68a1.65 1.65 0 0 0 1-1.51V3a2 2 0 1 1 4 0v.09a1.65 1.65 0 0 0 1 1.51 1.65 1.65 0 0 0 1.82-.33l.06-.06a2 2 0 1 1 2.83 2.83l-.06.06A1.65 1.65 0 0 0 19.4 9a1.65 1.65 0 0 0 1.51 1H21a2 2 0 1 1 0 4h-.09a1.65 1.65 0 0 0-1.51 1z" fill="none" stroke="#111" stroke-width="2.3"/></svg>
</div></div>
<div class="a st" style="left:221px;top:484px;width:1059px;height:14px;overflow:hidden;">
<div class="a" style="left:-221px;top:-496.5px;width:1280px;height:1099px">
<div class="a " style="left:273.60px;top:503.80px;font-size:13px;font-weight:bold;color:#111827;">#5</div>
<div class="a " style="left:326.00px;top:495.76px;font-size:12.1px;font-weight:bold;color:#111827;">AAdvantage</div>
<div class="a " style="left:326.00px;top:512.93px;font-size:12.6px;font-weight:normal;color:#6b7280;">American Airlines</div>
<div class="a " style="left:471.50px;top:504.39px;font-size:12.3px;font-weight:normal;color:#374151;">10.000</div>
<div class="a " style="left:575.50px;top:504.39px;font-size:12.3px;font-weight:normal;color:#374151;">R$ 0,08</div>
<div class="a " style="left:683.75px;top:503.63px;font-size:13.2px;font-weight:bold;color:#111827;">R$ 800,00</div>
<div class="a " style="left:790px;top:500px;width:59px;height:18px;background:#93c5fd;border-radius:9px"></div>
<svg class="a" style="left:799px;top:503px;" width="11" height="11" viewBox="0 0 11 11"><circle cx="5.5" cy="5.5" r="4.6" fill="none" stroke="#1a1a1a" stroke-width="1.2"/><path d="M3.4 5.6 L4.9 7.1 L7.7 4" fill="none" stroke="#1a1a1a" stroke-width="1.1"/></svg>
<div class="a " style="left:813.75px;top:504.78px;font-size:10.3px;font-weight:bold;color:#111827;">Ativo</div>
<div class="a " style="left:901.00px;top:504.43px;font-size:12.25px;font-weight:normal;color:#1f2937;">04/12/2025 17:46</div>
</div></div>
<div class="a st2" style="left:221px;top:509px;width:1059px;height:5px;overflow:hidden;">
<div class="a" style="left:-221px;top:-521.5px;width:1280px;height:1099px">
<div class="a " style="left:273.60px;top:503.80px;font-size:13px;font-weight:bold;color:#111827;">#5</div>
<div class="a " style="left:326.00px;top:495.76px;font-size:12.1px;font-weight:bold;color:#111827;">AAdvantage</div>
<div class="a " style="left:326.00px;top:512.93px;font-size:12.6px;font-weight:normal;color:#6b7280;">American Airlines</div>
<div class="a " style="left:471.50px;top:504.39px;font-size:12.3px;font-weight:normal;color:#374151;">10.000</div>
<div class="a " style="left:575.50px;top:504.39px;font-size:12.3px;font-weight:normal;color:#374151;">R$ 0,08</div>
<div class="a " style="left:683.75px;top:503.63px;font-size:13.2px;font-weight:bold;color:#111827;">R$ 800,00</div>
<div class="a " style="left:790px;top:500px;width:59px;height:18px;background:#93c5fd;border-radius:9px"></div>
<svg class="a" style="left:799px;top:503px;" width="11" height="11" viewBox="0 0 11 11"><circle cx="5.5" cy="5.5" r="4.6" fill="none" stroke="#1a1a1a" stroke-width="1.2"/><path d="M3.4 5.6 L4.9 7.1 L7.7 4" fill="none" stroke="#1a1a1a" stroke-width="1.1"/></svg>
<div class="a " style="left:813.75px;top:504.78px;font-size:10.3px;font-weight:bold;color:#111827;">Ativo</div>
<div class="a " style="left:901.00px;top:504.43px;font-size:12.25px;font-weight:normal;color:#1f2937;">04/12/2025 17:46</div>
</div></div>
<div class="a st" style="left:1200px;top:494px;width:80px;height:7px;overflow:hidden;">
<div class="a" style="left:-1200px;top:-506.5px;width:1280px;height:1099px">
<svg class="a" style="left:1219px;top:502px;" width="14" height="14" viewBox="0 0 24 24"><path d="M12 15a3 3 0 1 0 0-6 3 3 0 0 0 0 6z M19.4 15a1.65 1.65 0 0 0 .33 1.82l.06.06a2 2 0 1 1-2.83 2.83l-.06-.06a1.65 1.65 0 0 0-1.82-.33 1.65 1.65 0 0 0-1 1.51V21a2 2 0 1 1-4 0v-.09A1.65 1.65 0 0 0 9 19.4a1.65 1.65 0 0 0-1.820.33l-.06.06a2 2 0 1 1-2.83-2.83l.06-.06A1.65 1.65 0 0 0 4.68 15a1.65 1.65 0 0 0-1.51-1H3a2 2 0 1 1 0-4h.09A1.65 1.65 0 0 0 4.6 9a1.65 1.65 0 0 0-.33-1.82l-.06-.06a2 2 0 1 1 2.83-2.83l.06.06A1.65 1.65 0 0 0 9 4.68a1.65 1.65 0 0 0 1-1.51V3a2 2 0 1 1 4 0v.09a1.65 1.65 0 0 0 1 1.51 1.65 1.65 0 0 0 1.82-.33l.06-.06a2 2 0 1 1 2.83 2.83l-.06.06A1.65 1.65 0 0 0 19.4 9a1.65 1.65 0 0 0 1.51 1H21a2 2 0 1 1 0 4h-.09a1.65 1.65 0 0 0-1.51 1z" fill="none" stroke="#111" stroke-width="2.3"/></svg>
</div></div>
<div class="a st" style="left:1212px;top:508px;width:28px;height:10px;background:#fff"></div>
<div class="a st2" style="left:0px;top:771px;width:1280px;height:7px;overflow:hidden;">
<div class="a" style="left:0px;top:-782px;width:1280px;height:1099px">
<div class="a " style="left:106.00px;top:755.23px;font-size:14.5px;font-weight:normal;color:#d1d5db;">A plataforma mais confiável para compra e venda de milhas</div>
<div class="a " style="left:106.00px;top:778.03px;font-size:14.5px;font-weight:normal;color:#d1d5db;">aéreas no Brasil. Conectamos pessoas que querem viajar</div>
<div class="a " style="left:106.00px;top:800.73px;font-size:14.5px;font-weight:normal;color:#d1d5db;">mais pagando menos.</div>
</div></div>
<div class="a st2" style="left:0px;top:791px;width:1280px;height:6px;overflow:hidden;">
<div class="a" style="left:0px;top:-802px;width:1280px;height:1099px">
<div class="a " style="left:106.00px;top:755.23px;font-size:14.5px;font-weight:normal;color:#d1d5db;">A plataforma mais confiável para compra e venda de milhas</div>
<div class="a " style="left:106.00px;top:778.03px;font-size:14.5px;font-weight:normal;color:#d1d5db;">aéreas no Brasil. Conectamos pessoas que querem viajar</div>
<div class="a " style="left:106.00px;top:800.73px;font-size:14.5px;font-weight:normal;color:#d1d5db;">mais pagando menos.</div>
</div></div>
<div class="a st2" style="left:0px;top:817px;width:1280px;height:15px;overflow:hidden;">
<div class="a" style="left:0px;top:-839px;width:1280px;height:1099px">
<svg class="a" style="left:109px;top:841px;" width="10" height="16" viewBox="0 0 10 16"><path d="M7 1.5 H6 A3 3 0 0 0 3 4.5 V15 M1 7 H8" fill="none" stroke="#9ca3af" stroke-width="1.5"/></svg>
<svg class="a" style="left:137px;top:842px;" width="17" height="14" viewBox="0 0 17 14"><path d="M16 1.5 Q14.5 2.5 13.5 2.5 A3.3 3.3 0 0 0 8 5 V6 A8 8 0 0 1 1.5 2.5 Q-1 9.5 5.5 12 Q3.5 13 1 13 Q9 17 13.5 10.5 Q15 8 15 4.5 Q15.5 3 16 1.5 Z" fill="none" stroke="#9ca3af" stroke-width="1.4" stroke-linejoin="round"/></svg>
<svg class="a" style="left:169px;top:841px;" width="16" height="16" viewBox="0 0 16 16"><rect x="1" y="1" width="14" height="14" rx="4" fill="none" stroke="#9ca3af" stroke-width="1.4"/><circle cx="8" cy="8" r="3" fill="none" stroke="#9ca3af" stroke-width="1.4"/><circle cx="12" cy="4" r=".7" fill="#9ca3af"/></svg>
<svg class="a" style="left:200px;top:841px;" width="16" height="16" viewBox="0 0 16 16"><g fill="none" stroke="#9ca3af" stroke-width="1.4"><rect x="1" y="6" width="3" height="9"/><circle cx="2.5" cy="2.5" r="1.5"/><path d="M7 15 V6 H10 V7 A3.5 3.5 0 0 1 15 9.5 V15 H12 V10 A1.5 1.5 0 0 0 10 10 V15 Z"/></g></svg>
</div></div>
<div class="a st2" style="left:0px;top:907px;width:1280px;height:35px;overflow:hidden;">
<div class="a" style="left:0px;top:-945px;width:1280px;height:1099px">
<svg class="a" style="left:106px;top:959px;" width="17" height="14" viewBox="0 0 17 14"><rect x=".8" y=".8" width="15.4" height="12.4" rx="1.5" fill="none" stroke="#60a5fa" stroke-width="1.4"/><path d="M1 1.8 L8.5 7.8 L16 1.8" fill="none" stroke="#60a5fa" stroke-width="1.4"/></svg>
<svg class="a" style="left:473px;top:958px;" width="17" height="17" viewBox="0 0 24 24"><path d="M22 16.9v3a2 2 0 0 1-2.2 2 19.8 19.8 0 0 1-8.6-3.1 19.5 19.5 0 0 1-6-6A19.8 19.8 0 0 1 2.1 4.2 2 2 0 0 1 4.1 2h3a2 2 0 0 1 2 1.7c.1 1 .4 1.9.7 2.8a2 2 0 0 1-.5 2.1L8 9.9a16 16 0 0 0 6 6l1.3-1.3a2 2 0 0 1 2.1-.4c.9.3 1.8.6 2.8.7a2 2 0 0 1 1.7 2z" fill="none" stroke="#60a5fa" stroke-width="1.8"/></svg>
<svg class="a" style="left:842px;top:958px;" width="15" height="17" viewBox="0 0 15 17"><path d="M7.5 16.2 C3 11.5 1 8.6 1 6.5 A6.5 6.5 0 0 1 14 6.5 C14 8.6 12 11.5 7.5 16.2 Z" fill="none" stroke="#60a5fa" stroke-width="1.4"/><circle cx="7.5" cy="6.5" r="2.3" fill="none" stroke="#60a5fa" stroke-width="1.4"/></svg>
<div class="a " style="left:134.00px;top:947.10px;font-size:11.7px;font-weight:normal;color:#6b7280;">Email</div>
<div class="a " style="left:134.00px;top:965.90px;font-size:14.3px;font-weight:normal;color:#e5e7eb;clip-path:inset(0 0 3px 0)">contato@milhasja.com.br</div>
<div class="a " style="left:502.00px;top:947.10px;font-size:11.7px;font-weight:normal;color:#6b7280;">Telefone</div>
<div class="a " style="left:502.00px;top:965.90px;font-size:14.3px;font-weight:normal;color:#e5e7eb;clip-path:inset(0 0 3px 0)">(11) 3000-0000</div>
<div class="a " style="left:869.70px;top:947.10px;font-size:11.7px;font-weight:normal;color:#6b7280;">Endereço</div>
<div class="a " style="left:869.70px;top:965.90px;font-size:14.3px;font-weight:normal;color:#e5e7eb;clip-path:inset(0 0 3px 0)">São Paulo, SP - Brasil</div>
</div></div>
<div class="a " style="left:104px;top:923px;width:22px;height:5px;background:#111827"></div>
<div class="a " style="left:104px;top:930px;width:22px;height:12px;background:#111827"></div>
<div class="a " style="left:471px;top:923px;width:22px;height:5px;background:#111827"></div>
<div class="a " style="left:471px;top:930px;width:22px;height:12px;background:#111827"></div>
<div class="a " style="left:840px;top:923px;width:22px;height:5px;background:#111827"></div>
<div class="a " style="left:840px;top:930px;width:22px;height:12px;background:#111827"></div>
<div class="a st2" style="left:130px;top:949px;width:890px;height:9px;background:#111827"></div>
<div class="a st" style="left:0px;top:1014px;width:1280px;height:5px;overflow:hidden;">
<div class="a" style="left:0px;top:-1052px;width:1280px;height:1099px">
<div class="a " style="left:106.00px;top:1043.66px;font-size:12.8px;font-weight:normal;color:#9ca3af;">© 2024 MilhasJá. Todos os direitos reservados.</div>
<div class="a " style="left:994.60px;top:1044.00px;font-size:12.4px;font-weight:normal;color:#9ca3af;">Termos</div>
<div class="a " style="left:1055.60px;top:1044.00px;font-size:12.4px;font-weight:normal;color:#9ca3af;">Privacidade</div>
<div class="a " style="left:1142.40px;top:1044.00px;font-size:12.4px;font-weight:normal;color:#9ca3af;">Cookies</div>
</div></div>
<div class="a st" style="left:0px;top:776px;width:1280px;height:5px;overflow:hidden;">
<div class="a" style="left:0px;top:-783.5px;width:1280px;height:1099px">
<div class="a " style="left:661.00px;top:714.63px;font-size:15.2px;font-weight:bold;color:#0a0e17;">Links Rápidos</div>
<div class="a " style="left:938.00px;top:714.63px;font-size:15.2px;font-weight:bold;color:#0a0e17;">Suporte</div>
<div class="a " style="left:661.00px;top:751.90px;font-size:14.3px;font-weight:normal;color:#d1d5db;">Marketplace</div>
<div class="a " style="left:661.00px;top:782.20px;font-size:14.3px;font-weight:normal;color:#d1d5db;">Como Funciona</div>
<div class="a " style="left:661.00px;top:811.90px;font-size:14.3px;font-weight:normal;color:#d1d5db;">Blog</div>
<div class="a " style="left:661.00px;top:841.70px;font-size:14.3px;font-weight:normal;color:#d1d5db;">Sobre Nós</div>
<div class="a " style="left:661.00px;top:870.50px;font-size:14.3px;font-weight:normal;color:#d1d5db;">Contato</div>
<div class="a " style="left:938.00px;top:751.90px;font-size:14.3px;font-weight:normal;color:#d1d5db;">Central de Ajuda</div>
<div class="a " style="left:938.00px;top:782.20px;font-size:14.3px;font-weight:normal;color:#d1d5db;">FAQ</div>
<div class="a " style="left:938.00px;top:811.90px;font-size:14.3px;font-weight:normal;color:#d1d5db;">Termos de Uso</div>
<div class="a " style="left:938.00px;top:841.70px;font-size:14.3px;font-weight:normal;color:#d1d5db;">Política de Privacidade</div>
<div class="a " style="left:938.00px;top:870.50px;font-size:14.3px;font-weight:normal;color:#d1d5db;">Segurança</div>
</div></div>
<div class="a st" style="left:0px;top:798px;width:1280px;height:3px;overflow:hidden;">
<div class="a" style="left:0px;top:-813.5px;width:1280px;height:1099px">
<div class="a " style="left:661.00px;top:714.63px;font-size:15.2px;font-weight:bold;color:#0a0e17;">Links Rápidos</div>
<div class="a " style="left:938.00px;top:714.63px;font-size:15.2px;font-weight:bold;color:#0a0e17;">Suporte</div>
<div class="a " style="left:661.00px;top:751.90px;font-size:14.3px;font-weight:normal;color:#d1d5db;">Marketplace</div>
<div class="a " style="left:661.00px;top:782.20px;font-size:14.3px;font-weight:normal;color:#d1d5db;">Como Funciona</div>
<div class="a " style="left:661.00px;top:811.90px;font-size:14.3px;font-weight:normal;color:#d1d5db;">Blog</div>
<div class="a " style="left:661.00px;top:841.70px;font-size:14.3px;font-weight:normal;color:#d1d5db;">Sobre Nós</div>
<div class="a " style="left:661.00px;top:870.50px;font-size:14.3px;font-weight:normal;color:#d1d5db;">Contato</div>
<div class="a " style="left:938.00px;top:751.90px;font-size:14.3px;font-weight:normal;color:#d1d5db;">Central de Ajuda</div>
<div class="a " style="left:938.00px;top:782.20px;font-size:14.3px;font-weight:normal;color:#d1d5db;">FAQ</div>
<div class="a " style="left:938.00px;top:811.90px;font-size:14.3px;font-weight:normal;color:#d1d5db;">Termos de Uso</div>
<div class="a " style="left:938.00px;top:841.70px;font-size:14.3px;font-weight:normal;color:#d1d5db;">Política de Privacidade</div>
<div class="a " style="left:938.00px;top:870.50px;font-size:14.3px;font-weight:normal;color:#d1d5db;">Segurança</div>
</div></div>
<div class="a st" style="left:0px;top:822px;width:1280px;height:5px;overflow:hidden;">
<div class="a" style="left:0px;top:-851px;width:1280px;height:1099px">
<div class="a " style="left:661.00px;top:714.63px;font-size:15.2px;font-weight:bold;color:#0a0e17;">Links Rápidos</div>
<div class="a " style="left:938.00px;top:714.63px;font-size:15.2px;font-weight:bold;color:#0a0e17;">Suporte</div>
<div class="a " style="left:661.00px;top:751.90px;font-size:14.3px;font-weight:normal;color:#d1d5db;">Marketplace</div>
<div class="a " style="left:661.00px;top:782.20px;font-size:14.3px;font-weight:normal;color:#d1d5db;">Como Funciona</div>
<div class="a " style="left:661.00px;top:811.90px;font-size:14.3px;font-weight:normal;color:#d1d5db;">Blog</div>
<div class="a " style="left:661.00px;top:841.70px;font-size:14.3px;font-weight:normal;color:#d1d5db;">Sobre Nós</div>
<div class="a " style="left:661.00px;top:870.50px;font-size:14.3px;font-weight:normal;color:#d1d5db;">Contato</div>
<div class="a " style="left:938.00px;top:751.90px;font-size:14.3px;font-weight:normal;color:#d1d5db;">Central de Ajuda</div>
<div class="a " style="left:938.00px;top:782.20px;font-size:14.3px;font-weight:normal;color:#d1d5db;">FAQ</div>
<div class="a " style="left:938.00px;top:811.90px;font-size:14.3px;font-weight:normal;color:#d1d5db;">Termos de Uso</div>
<div class="a " style="left:938.00px;top:841.70px;font-size:14.3px;font-weight:normal;color:#d1d5db;">Política de Privacidade</div>
<div class="a " style="left:938.00px;top:870.50px;font-size:14.3px;font-weight:normal;color:#d1d5db;">Segurança</div>
</div></div>
</body>
</html>
